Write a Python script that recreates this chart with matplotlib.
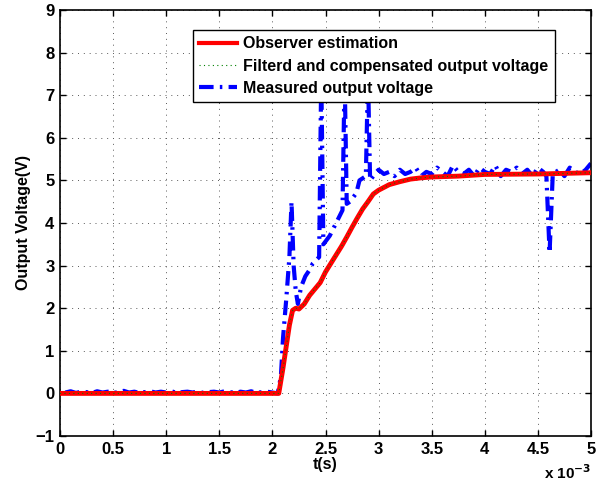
import numpy as np
from matplotlib import pyplot as plt
from matplotlib.lines import Line2D

# time axis in ms (axis shows x 10^-3 s)
obs_t = [0.0, 2.06, 2.10, 2.13, 2.16, 2.19, 2.22, 2.25, 2.30, 2.35, 2.40, 2.45,
         2.50, 2.55, 2.60, 2.65, 2.70, 2.75, 2.80, 2.85, 2.90, 2.95, 3.00,
         3.10, 3.20, 3.30, 3.40, 3.50, 3.75, 4.00, 4.50, 5.00]
obs_v = [0.0, 0.0, 0.6, 1.1, 1.6, 1.95, 2.0, 1.98, 2.1, 2.3, 2.45, 2.6,
         2.85, 3.05, 3.25, 3.45, 3.67, 3.9, 4.12, 4.33, 4.5, 4.68, 4.77,
         4.9, 4.97, 5.03, 5.06, 5.08, 5.1, 5.14, 5.15, 5.18]

# filtered / compensated output lies on top of the observer curve
filt_t = list(obs_t)
filt_v = [0.0, 0.0, 0.58, 1.08, 1.6, 1.94, 2.0, 1.98, 2.1, 2.3, 2.45, 2.6,
          2.85, 3.05, 3.25, 3.45, 3.67, 3.9, 4.12, 4.33, 4.5, 4.68, 4.77,
          4.9, 4.97, 5.03, 5.06, 5.08, 5.1, 5.14, 5.15, 5.18]

meas_t = [0.05, 0.10, 0.15, 0.20, 0.25, 0.30, 0.35, 0.40, 0.45, 0.50,
          0.55, 0.60, 0.65, 0.70, 0.75, 0.80, 0.85, 0.90, 0.95, 1.00,
          1.05, 1.10, 1.15, 1.20, 1.25, 1.30, 1.35, 1.40, 1.45, 1.50,
          1.55, 1.60, 1.65, 1.70, 1.75, 1.80, 1.85, 1.90, 1.95, 2.00,
          2.05, 2.08, 2.10, 2.13, 2.16, 2.18, 2.20, 2.22, 2.24, 2.27,
          2.31, 2.35, 2.38, 2.42, 2.44, 2.46, 2.48, 2.51, 2.54, 2.57,
          2.60, 2.63, 2.66, 2.68, 2.70, 2.73, 2.76, 2.79, 2.82, 2.85,
          2.88, 2.90, 2.92, 2.95, 2.98, 3.00, 3.05, 3.10, 3.15, 3.20,
          3.25, 3.30, 3.35, 3.40, 3.45, 3.50, 3.55, 3.60, 3.65, 3.70,
          3.75, 3.80, 3.85, 3.90, 3.95, 4.00, 4.05, 4.10, 4.15, 4.20,
          4.25, 4.30, 4.35, 4.40, 4.45, 4.50, 4.55, 4.58, 4.61, 4.64,
          4.70, 4.75, 4.80, 4.85, 4.90, 4.95, 5.00]
meas_v = [0.02, 0.05, 0.01, 0.04, 0.03, 0.01, 0.05, 0.02, 0.04, 0.01,
          0.03, 0.06, 0.02, 0.04, 0.01, 0.03, 0.05, 0.02, 0.04, 0.02,
          0.05, 0.01, 0.03, 0.04, 0.02, 0.05, 0.01, 0.03, 0.04, 0.02,
          0.05, 0.03, 0.01, 0.04, 0.02, 0.05, 0.01, 0.03, 0.04, 0.02,
          0.0, 0.4, 1.3, 2.2, 3.2, 4.5, 3.0, 2.4, 2.1, 2.5,
          2.75, 2.9, 3.05, 3.15, 3.2, 7.5, 3.5, 3.6, 3.7, 3.85,
          4.0, 4.15, 4.3, 7.5, 4.45, 4.5, 4.6, 4.7, 5.0, 5.05,
          5.1, 7.5, 5.0, 5.1, 5.2, 5.25, 5.15, 5.2, 5.1, 5.25,
          5.15, 5.2, 5.3, 5.1, 5.2, 5.15, 5.3, 5.2, 5.1, 5.35,
          5.2, 5.15, 5.25, 5.1, 5.3, 5.2, 5.15, 5.35, 5.1, 5.25,
          5.2, 5.3, 5.15, 5.25, 5.1, 5.3, 5.2, 5.1, 3.3, 5.15,
          5.25, 5.1, 5.3, 5.2, 5.15, 5.25, 5.4]

labels = ['Observer estimation', 'Filterd and compensated output voltage',
          'Measured output voltage']

plt.rcParams['font.family'] = ['Liberation Sans', 'DejaVu Sans']
plt.rcParams['font.weight'] = 'bold'

fig = plt.figure(figsize=(6, 4.84), dpi=100)
ax = fig.add_axes([60 / 600, 1 - 436 / 484, 531 / 600, 426 / 484])

meas_style = (0, (3.5, 1.5, 0.6, 1.5))
ax.plot(meas_t, meas_v, color='#0000ff', linestyle=meas_style, lw=3, zorder=2)
ax.plot(obs_t, obs_v, color='#ff0000', lw=3.5, zorder=3)
ax.plot(filt_t, filt_v, color='#008000', linestyle=(0, (1, 3)), lw=0.8, zorder=4)

ax.set_xlim(0, 5)
ax.set_ylim(-1, 9)
ax.set_xticks(np.arange(0, 5.01, 0.5))
ax.set_xticklabels(['0', '0.5', '1', '1.5', '2', '2.5', '3', '3.5', '4', '4.5', '5'])
ax.set_yticks(np.arange(-1, 10, 1))
ax.set_yticklabels(['\u22121'] + [str(i) for i in range(0, 10)])
ax.tick_params(direction='in', top=True, right=True, labelsize=12, length=4, width=1, pad=4)
ax.grid(True, color='0.35', linestyle=(0, (1, 5)), lw=0.7)
for s in ax.spines.values():
    s.set_linewidth(1.2)

ax.set_xlabel('t(s)', fontsize=11.5, fontweight='bold', labelpad=0)
ax.set_ylabel('Output Voltage(V)', fontsize=11.5, fontweight='bold', labelpad=3)
ax.text(1.0, -0.085, r'x 10$^{\mathbf{-3}}$', transform=ax.transAxes, ha='right',
        va='center', fontsize=11, fontweight='bold')

handles = [Line2D([], [], color='#ff0000', lw=3),
           Line2D([], [], color='#008000', linestyle=(0, (1, 3)), lw=0.8),
           Line2D([], [], color='#0000ff', linestyle=meas_style, lw=3)]
leg = ax.legend(handles, labels, loc='upper left', bbox_to_anchor=(0.25, 0.953),
                borderaxespad=0, fancybox=False, framealpha=1, edgecolor='k',
                prop={'size': 11.5, 'weight': 'bold'}, handlelength=2.4,
                labelspacing=0.45, borderpad=0.4, handletextpad=0.35)
leg.get_frame().set_linewidth(1.0)
leg.set_zorder(10)

fig.savefig('out.png', dpi=100)
